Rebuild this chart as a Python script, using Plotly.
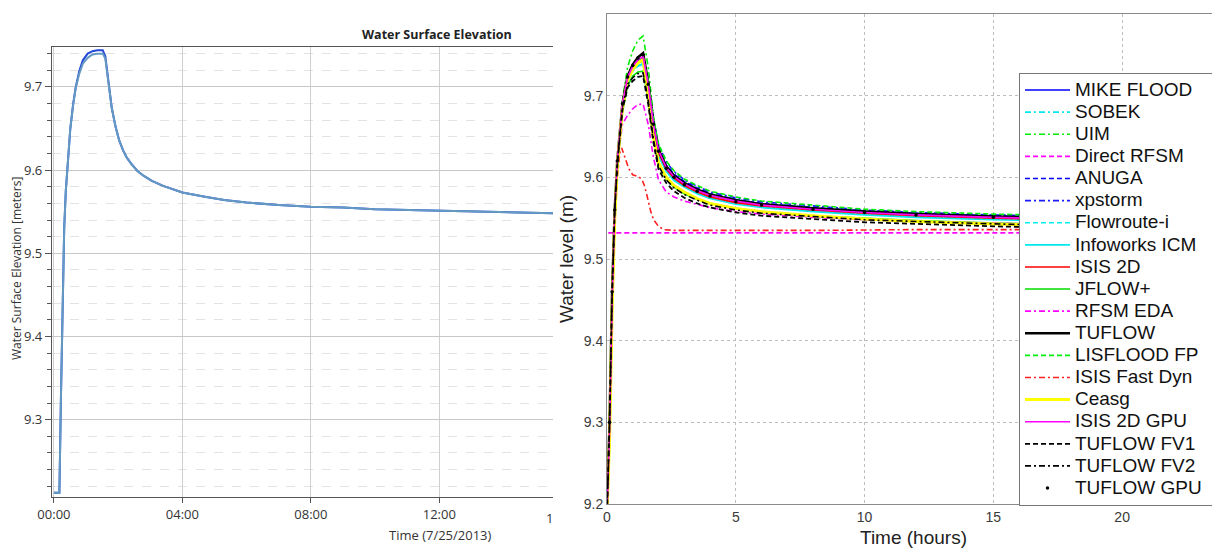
import plotly.graph_objects as go

# ---------------- Left panel data (hours since 00:00) ----------------
left_time = [0.00, 0.17, 0.22, 0.27, 0.32, 0.37, 0.43, 0.51, 0.60, 0.68, 0.79, 0.90, 1.05, 1.20,
             1.35, 1.52, 1.60, 1.68, 1.80, 1.92, 2.03, 2.15, 2.27, 2.42, 2.60, 2.80, 3.05, 3.40,
             4.00, 4.70, 5.30, 6.00, 7.00, 8.00, 9.00, 10.0, 11.0, 12.0, 13.0, 14.0, 15.6]
left_wse_a = [9.212, 9.212, 9.33, 9.45, 9.53, 9.575, 9.61, 9.65, 9.68, 9.70, 9.719, 9.732, 9.740,
              9.743, 9.744, 9.744, 9.737, 9.71, 9.675, 9.652, 9.636, 9.624, 9.615, 9.607, 9.599,
              9.593, 9.587, 9.581, 9.573, 9.568, 9.564, 9.561, 9.558, 9.556, 9.555, 9.553, 9.552,
              9.551, 9.550, 9.549, 9.548]
left_wse_b = [9.212, 9.212, 9.33, 9.45, 9.53, 9.575, 9.61, 9.65, 9.679, 9.699, 9.716, 9.728, 9.735,
              9.739, 9.740, 9.740, 9.734, 9.709, 9.675, 9.652, 9.636, 9.624, 9.615, 9.607, 9.599,
              9.593, 9.587, 9.581, 9.573, 9.568, 9.564, 9.561, 9.558, 9.556, 9.555, 9.553, 9.552,
              9.551, 9.550, 9.549, 9.548]
left_tick_hours = [0, 4, 8, 12]
left_tick_labels = ["00:00", "04:00", "08:00", "12:00"]

# ---------------- Right panel data (hours) ----------------
T = [0, 0.1, 0.2, 0.3, 0.4, 0.6, 0.8, 1.0, 1.2, 1.4, 1.6, 1.8, 2.0, 2.3, 2.6, 3.0, 3.5, 4.0,
     5.0, 6.0, 8.0, 10, 12, 15, 18, 21, 24]

mike_flood = [9.19, 9.30, 9.46, 9.56, 9.62, 9.69, 9.722, 9.735, 9.742, 9.745, 9.712, 9.665, 9.633, 9.613, 9.602, 9.593, 9.585, 9.579, 9.572, 9.567, 9.562, 9.558, 9.555, 9.552, 9.550, 9.549, 9.548]
sobek = [9.19, 9.29, 9.45, 9.55, 9.615, 9.685, 9.718, 9.730, 9.736, 9.738, 9.706, 9.66, 9.628, 9.608, 9.597, 9.589, 9.581, 9.575, 9.568, 9.564, 9.559, 9.555, 9.552, 9.549, 9.547, 9.546, 9.545]
uim = [9.19, 9.29, 9.45, 9.56, 9.62, 9.695, 9.735, 9.755, 9.768, 9.773, 9.735, 9.675, 9.638, 9.615, 9.603, 9.594, 9.586, 9.580, 9.573, 9.568, 9.563, 9.559, 9.556, 9.553, 9.551, 9.550, 9.549]
direct_rfsm_time = [0.05, 24]
direct_rfsm = [9.532, 9.532]
anuga = [9.19, 9.30, 9.46, 9.56, 9.62, 9.69, 9.722, 9.736, 9.743, 9.746, 9.715, 9.668, 9.636, 9.615, 9.604, 9.595, 9.587, 9.580, 9.573, 9.568, 9.563, 9.559, 9.556, 9.553, 9.551, 9.550, 9.549]
xpstorm = [9.19, 9.30, 9.46, 9.56, 9.62, 9.69, 9.723, 9.737, 9.744, 9.747, 9.718, 9.672, 9.640, 9.619, 9.607, 9.597, 9.589, 9.582, 9.575, 9.570, 9.565, 9.560, 9.557, 9.554, 9.552, 9.550, 9.549]
flowroute = [9.19, 9.29, 9.45, 9.55, 9.615, 9.685, 9.72, 9.732, 9.739, 9.741, 9.708, 9.66, 9.628, 9.609, 9.598, 9.590, 9.582, 9.576, 9.569, 9.565, 9.560, 9.556, 9.553, 9.550, 9.548, 9.547, 9.546]
infoworks = [9.19, 9.29, 9.45, 9.55, 9.615, 9.685, 9.718, 9.731, 9.737, 9.739, 9.705, 9.658, 9.626, 9.607, 9.596, 9.588, 9.580, 9.574, 9.567, 9.563, 9.558, 9.554, 9.551, 9.548, 9.546, 9.545, 9.544]
isis_2d = [9.19, 9.30, 9.46, 9.56, 9.62, 9.69, 9.721, 9.734, 9.741, 9.744, 9.71, 9.662, 9.630, 9.610, 9.599, 9.590, 9.582, 9.576, 9.569, 9.565, 9.560, 9.556, 9.553, 9.550, 9.548, 9.547, 9.546]
jflow = [9.19, 9.29, 9.45, 9.55, 9.61, 9.68, 9.712, 9.724, 9.729, 9.730, 9.695, 9.648, 9.615, 9.598, 9.588, 9.580, 9.573, 9.568, 9.562, 9.558, 9.553, 9.550, 9.547, 9.544, 9.542, 9.541, 9.540]
rfsm_eda = [9.19, 9.30, 9.46, 9.56, 9.62, 9.665, 9.676, 9.684, 9.689, 9.690, 9.665, 9.625, 9.597, 9.582, 9.576, 9.571, 9.567, 9.563, 9.558, 9.555, 9.551, 9.548, 9.546, 9.544, 9.542, 9.541, 9.540]
tuflow = [9.19, 9.30, 9.46, 9.56, 9.62, 9.69, 9.724, 9.738, 9.747, 9.752, 9.716, 9.667, 9.634, 9.613, 9.602, 9.593, 9.585, 9.579, 9.572, 9.567, 9.562, 9.558, 9.555, 9.552, 9.550, 9.549, 9.548]
lisflood = [9.19, 9.30, 9.46, 9.56, 9.62, 9.69, 9.722, 9.736, 9.743, 9.746, 9.718, 9.673, 9.641, 9.620, 9.608, 9.598, 9.590, 9.583, 9.576, 9.571, 9.566, 9.561, 9.558, 9.555, 9.553, 9.551, 9.550]
fast_dyn_time = [0, 0.1, 0.2, 0.3, 0.4, 0.5, 0.57, 0.7, 0.84, 1.0, 1.2, 1.35, 1.45, 1.55, 1.7, 1.81, 2.0, 2.2, 2.6, 4, 8, 12, 16, 20, 24]
fast_dyn = [9.19, 9.30, 9.45, 9.54, 9.60, 9.63, 9.636, 9.625, 9.611, 9.603, 9.601, 9.598, 9.59, 9.578, 9.558, 9.548, 9.540, 9.536, 9.535, 9.535, 9.535, 9.536, 9.536, 9.536, 9.536]
ceasg = [9.19, 9.28, 9.44, 9.55, 9.615, 9.685, 9.719, 9.732, 9.740, 9.744, 9.700, 9.650, 9.618, 9.600, 9.590, 9.582, 9.574, 9.568, 9.562, 9.558, 9.553, 9.549, 9.546, 9.543, 9.541, 9.540, 9.539]
isis_gpu = [9.19, 9.29, 9.45, 9.56, 9.62, 9.69, 9.722, 9.736, 9.744, 9.748, 9.714, 9.666, 9.633, 9.612, 9.601, 9.592, 9.584, 9.578, 9.571, 9.566, 9.561, 9.557, 9.554, 9.551, 9.549, 9.548, 9.547]
tuflow_fv1 = [9.19, 9.30, 9.46, 9.56, 9.615, 9.683, 9.710, 9.718, 9.723, 9.724, 9.69, 9.643, 9.610, 9.593, 9.583, 9.575, 9.568, 9.563, 9.557, 9.553, 9.549, 9.545, 9.543, 9.540, 9.538, 9.537, 9.536]
tuflow_fv2 = [9.19, 9.30, 9.46, 9.56, 9.617, 9.686, 9.714, 9.722, 9.727, 9.728, 9.694, 9.647, 9.614, 9.597, 9.587, 9.579, 9.572, 9.566, 9.560, 9.556, 9.552, 9.548, 9.546, 9.543, 9.541, 9.540, 9.539]
tuflow_gpu = [9.19, 9.30, 9.46, 9.56, 9.62, 9.69, 9.723, 9.737, 9.746, 9.750, 9.714, 9.665, 9.632, 9.611, 9.600, 9.591, 9.583, 9.577, 9.570, 9.566, 9.561, 9.557, 9.554, 9.551, 9.549, 9.548, 9.547]

right_x_ticks = [0, 5, 10, 15, 20]

# page body has an 8px default margin: size the figure so it fills the 1220x550 window
OX, OY = 8, 8
W, H = 1220 - OX, 550 - OY


def px(x):
    return (x - OX) / W


def py(y):
    return (550 - y) / H


fig = go.Figure()

# ---- left panel traces ----
fig.add_trace(go.Scatter(x=left_time, y=left_wse_a, mode="lines", line=dict(color="#2448d8", width=2.0),
                         showlegend=False, xaxis="x", yaxis="y"))
fig.add_trace(go.Scatter(x=left_time, y=left_wse_b, mode="lines", line=dict(color="#6499c2", width=2.0),
                         showlegend=False, xaxis="x", yaxis="y"))

# ---- right panel traces ----
DASH = "5px,3px"
DASHDOT = "6px,3px,2px,3px"
series = [
    ("MIKE FLOOD", T, mike_flood, "#0000ff", "solid", 1.6),
    ("SOBEK", T, sobek, "#00e8f0", DASHDOT, 1.6),
    ("UIM", T, uim, "#00ee00", DASHDOT, 1.6),
    ("Direct RFSM", direct_rfsm_time, direct_rfsm, "#ff00ff", DASH, 1.6),
    ("ANUGA", T, anuga, "#0000ff", DASH, 1.6),
    ("xpstorm", T, xpstorm, "#1a1aff", DASHDOT, 1.6),
    ("Flowroute-i", T, flowroute, "#00f0f0", DASH, 1.6),
    ("Infoworks ICM", T, infoworks, "#00e8f0", "solid", 1.6),
    ("ISIS 2D", T, isis_2d, "#ff0000", "solid", 1.6),
    ("JFLOW+", T, jflow, "#00dd00", "solid", 1.6),
    ("RFSM EDA", T, rfsm_eda, "#ff00ff", DASHDOT, 1.6),
    ("TUFLOW", T, tuflow, "#000000", "solid", 2.6),
    ("LISFLOOD FP", T, lisflood, "#00ee00", DASH, 1.6),
    ("ISIS Fast Dyn", fast_dyn_time, fast_dyn, "#ff2020", DASHDOT, 1.6),
    ("Ceasg", T, ceasg, "#ffff00", "solid", 3.0),
    ("ISIS 2D GPU", T, isis_gpu, "#ff00ff", "solid", 1.6),
    ("TUFLOW FV1", T, tuflow_fv1, "#000000", DASH, 1.8),
    ("TUFLOW FV2", T, tuflow_fv2, "#000000", DASHDOT, 1.6),
]


def legend_name(name, pad=0):
    return '<span style="font-size:19px">' + name + "&nbsp;" * pad + "</span>"


for name, xs, ys, col, dash, w in series:
    fig.add_trace(go.Scatter(x=xs, y=ys, mode="lines",
                             name=legend_name(name, 4 if name == "Infoworks ICM" else 0),
                             line=dict(color=col, dash=dash, width=w),
                             xaxis="x2", yaxis="y2"))
fig.add_trace(go.Scatter(x=T, y=tuflow_gpu, mode="markers", name=legend_name("TUFLOW GPU"),
                         marker=dict(color="#000000", size=3.5), xaxis="x2", yaxis="y2"))

# ---- layout ----
left_font = dict(family="Open Sans, Noto Sans, sans-serif", size=13, color="#333333")
right_font = dict(family="Liberation Sans, Arial, sans-serif", size=14, color="#3a3a3a")

fig.update_layout(
    width=W, height=H,
    margin=dict(l=0, r=0, t=0, b=0, autoexpand=False),
    paper_bgcolor="white", plot_bgcolor="white",
    showlegend=True,
    xaxis=dict(domain=[px(52), px(553)], range=[-0.06, 15.54], tickvals=left_tick_hours,
               ticktext=left_tick_labels, ticks="outside", ticklen=5, tickcolor="#555",
               showline=True, linecolor="#555555", linewidth=1.2, mirror=True,
               showgrid=True, gridcolor="#cfcfcf", gridwidth=1, zeroline=False,
               tickfont=left_font, anchor="y"),
    yaxis=dict(domain=[py(497), py(47)], range=[9.207, 9.748], tick0=9.3, dtick=0.1,
               ticks="outside", ticklen=6, tickcolor="#555",
               showline=True, linecolor="#555555", linewidth=1.2,
               showgrid=True, gridcolor="#c8c8c8", gridwidth=1, zeroline=False,
               minor=dict(dtick=0.02, ticks="outside", ticklen=4, tickcolor="#555",
                          showgrid=True, gridcolor="#e3e3e3", griddash="dash"),
               tickfont=left_font, anchor="x"),
    xaxis2=dict(domain=[px(607), 1.0], range=[0, 23.8], tickvals=right_x_ticks,
                ticks="", showline=True, linecolor="#8a8a8a", linewidth=1, mirror=True,
                showgrid=True, gridcolor="#bdbdbd", griddash="dot", gridwidth=1,
                zeroline=False, tickfont=right_font, anchor="y2",
                title=dict(text="Time (hours)", font=dict(family="Liberation Sans, Arial, sans-serif",
                                                          size=19, color="#222"), standoff=6)),
    yaxis2=dict(domain=[py(504), py(14)], range=[9.2, 9.8], dtick=0.1, tickformat=".1f",
                ticks="", showline=True, linecolor="#8a8a8a", linewidth=1,
                showgrid=True, gridcolor="#bdbdbd", griddash="dot", gridwidth=1,
                zeroline=False, tickfont=right_font, anchor="x2",
                title=dict(text="Water level (m)", font=dict(family="Liberation Sans, Arial, sans-serif",
                                                             size=19, color="#222"), standoff=5)),
    legend=dict(x=px(1019), y=py(73), xanchor="left", yanchor="top",
                bgcolor="white", bordercolor="#777777", borderwidth=1,
                font=dict(family="Liberation Sans, Arial, sans-serif", size=14.7, color="#111"),
                tracegroupgap=0, itemwidth=45),
    annotations=[
        dict(text="<b>Water Surface Elevation</b>", x=px(437), y=py(34), xref="paper", yref="paper",
             xanchor="center", yanchor="middle", showarrow=False,
             font=dict(family="Open Sans, Noto Sans, sans-serif", size=12.5, color="#222")),
        dict(text="Water Surface Elevation [meters]", x=px(16), y=py(269), xref="paper", yref="paper",
             xanchor="center", yanchor="middle", textangle=-90, showarrow=False,
             font=dict(family="Open Sans, Noto Sans, sans-serif", size=12, color="#333")),
        dict(text="Time (7/25/2013)", x=px(440), y=py(535), xref="paper", yref="paper",
             xanchor="center", yanchor="middle", showarrow=False,
             font=dict(family="Open Sans, Noto Sans, sans-serif", size=13, color="#333")),
        dict(text="1", x=px(549), y=py(518), xref="paper", yref="paper",
             xanchor="center", yanchor="middle", showarrow=False, font=left_font),
    ],
)

fig.write_html("out.html")
